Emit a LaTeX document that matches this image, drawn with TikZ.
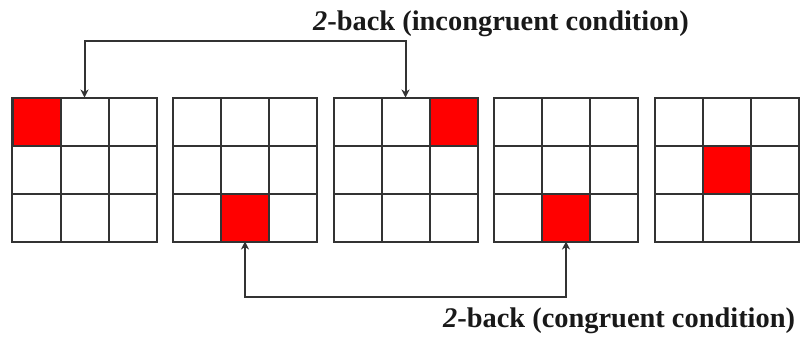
\documentclass[tikz,border=0pt]{standalone}
\usepackage{fontspec}
\setmainfont{Liberation Serif}
\usetikzlibrary{arrows.meta}
\definecolor{ink}{HTML}{333333}
\definecolor{hit}{HTML}{FF0000}
\begin{document}
\begin{tikzpicture}[x=1bp,y=-1bp,
  board/.style={draw=ink, line width=2bp, minimum size=144bp, inner sep=0pt, outer sep=0pt},
  cellline/.style={draw=ink, line width=2bp},
  link/.style={draw=ink, line width=2bp, {Stealth[length=8bp,width=8bp,inset=2.5bp]}-{Stealth[length=8bp,width=8bp,inset=2.5bp]}},
  lab/.style={font=\fontsize{28.4bp}{32bp}\selectfont\bfseries, text=black!90, inner sep=0pt, anchor=base west}]
\useasboundingbox (0,0) rectangle (803,343);
% five 3x3 boards; each entry: index / column / row of the red cell
\foreach \i/\c/\r in {1/0/0,2/1/2,3/2/0,4/1/2,5/1/1}{
  \pgfmathsetmacro\xo{12.5+160.5*(\i-1)}
  \begin{scope}[shift={(\xo,97.5)}]
    \fill[hit] (\c*48,\r*48) rectangle ++(48,48);
    \foreach \k in {48,96}{
      \draw[cellline] (\k,0) -- (\k,144);
      \draw[cellline] (0,\k) -- (144,\k);
    }
    \draw[cellline] (\c*48,\r*48) rectangle ++(48,48);
  \end{scope}
  \node[board] (g\i) at (\xo+72,169.5) {};
}
% 2-back links
\draw[link] (g1.north) -- ++(0,-56.5) -| (g3.north);
\draw[link] (g2.south) -- ++(0,55.5) -| (g4.south);
\node[lab] (top) at (313,30) {\textit{2}-back (incongruent condition)};
\node[lab] (bottom) at (443,327) {\textit{2}-back (congruent condition)};
\end{tikzpicture}
\end{document}
